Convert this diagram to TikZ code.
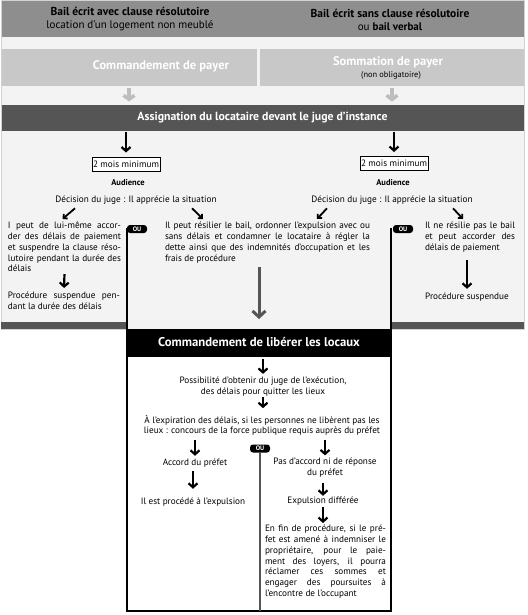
\documentclass[tikz,border=0pt]{standalone}
\usepackage{fontspec}
\setmainfont{PT Sans}
\usetikzlibrary{arrows.meta}
\definecolor{grisfonce}{HTML}{555555}
\definecolor{grismoyen}{HTML}{8E8E8E}
\definecolor{grisclair}{HTML}{C8C8C8}
\definecolor{grisfleche}{HTML}{BDBDBD}
\definecolor{fond}{HTML}{F3F3F3}

\begin{document}
\begin{tikzpicture}[x=1pt, y=-1pt,
    every node/.style={inner sep=0pt, outer sep=0pt},
    titre/.style={font=\fontsize{11}{13}\selectfont, align=center},
    texte/.style={font=\fontsize{9.2}{10.8}\selectfont, align=center},
    bloc/.style={texte, align=justify, anchor=north west},
    bande/.style={font=\fontsize{12.5}{13}\selectfont\bfseries, text=white},
    fleche/.style={line width=2.2pt, -{Straight Barb[length=4pt,width=9pt]}},
    petite/.style={line width=1.8pt, -{Straight Barb[length=3pt,width=6pt]}},
    flechegris/.style={draw=grisfleche, line width=3.5pt, -{Straight Barb[length=4pt,width=11pt]}},
    ou/.style={fill=black, text=white, rounded corners=3pt, font=\fontsize{6.5}{7}\selectfont\bfseries, minimum width=20pt, minimum height=8pt},
    mois/.style={draw=black, line width=1pt, fill=white, font=\fontsize{9.2}{10}\selectfont, minimum width=68pt, minimum height=14pt}]
  \useasboundingbox (0,0) rectangle (527,615);

  % fonds et bandeaux du haut
  \fill[fond] (1,0) rectangle (524,329);
  \fill[grismoyen] (1,0) rectangle (524,37);
  \node[titre] (bailG) at (130,19.5) {{\fontsize{11.5}{13}\selectfont\bfseries Bail écrit avec clause résolutoire}\\location d'un logement non meublé};
  \node[titre] (bailD) at (390,19.5) {{\fontsize{11.5}{13}\selectfont\bfseries Bail écrit sans clause résolutoire}\\ou \textbf{bail verbal}};

  \node[fill=grisclair, minimum width=256pt, minimum height=37pt] (payerG) at (129,67.5) {};
  \node[fill=grisclair, minimum width=264pt, minimum height=37pt] (payerD) at (392,67.5) {};
  \node[bande] (cmdpayer) at (161,66) {Commandement de payer};
  \node[bande] (sommation) at (388,62) {Sommation de payer};
  \node[texte, font=\fontsize{8.4}{9}\selectfont] (nonoblig) at (391,75.5) {(non obligatoire)};

  \node[bande, font=\fontsize{11.8}{13}\selectfont\bfseries, fill=grisfonce, minimum width=523pt, minimum height=25pt] (assign) at (262.5,118) {Assignation du locataire devant le juge d'instance};
  \draw[flechegris, shorten <=2pt, shorten >=4pt] (payerG.south) -- (payerG.south |- assign.north);
  \draw[flechegris, shorten <=2pt, shorten >=4pt] (payerD.south) -- (payerD.south |- assign.north);

  % partie centrale
  \draw[gray!35, line width=0.8pt] (1,0) rectangle (524,329);
  \fill[grisfonce] (1,322) rectangle (127,329);
  \fill[grisfonce] (391,322) rectangle (524,329);
  \draw[line width=1.2pt] (127,228) -- (127,611);
  \draw[line width=1.2pt] (391,228) -- (391,356);
  \node[ou] (ouG) at (137,229) {OU};
  \node[ou] (ouD) at (403,229) {OU};

  \node[mois] (moisG) at (126,164.5) {2 mois minimum};
  \node[mois] (moisD) at (394,163) {2 mois minimum};
  \draw[fleche, shorten <=1pt, shorten >=5pt] (assign.south -| moisG.north) -- (moisG.north);
  \draw[fleche, shorten <=1pt, shorten >=4pt] (assign.south -| moisD.north) -- (moisD.north);
  \node[texte, font=\fontsize{8.5}{10}\selectfont\bfseries] (audG) at (128,183) {Audience};
  \node[texte, font=\fontsize{8.5}{10}\selectfont\bfseries] (audD) at (393,183) {Audience};
  \node[texte] (decG) at (136,200) {Décision du juge : Il apprécie la situation};
  \node[texte] (decD) at (392,200) {Décision du juge : Il apprécie la situation};

  \node[bloc, text width=113pt] (txtG) at (8,222) {I peut de lui-même accor-\linebreak der des délais de paiement\linebreak et suspendre la clause réso-\linebreak lutoire pendant la durée des\linebreak délais};
  \node[bloc, text width=112pt] (procG) at (8,292) {Procédure suspendue pen-\linebreak dant la durée des délais};
  \node[bloc, text width=205pt] (txtC) at (165,222) {Il peut résilier le bail, ordonner l'expulsion avec ou\linebreak sans délais et condamner le locataire à régler la\linebreak dette ainsi que des indemnités d'occupation et les\linebreak frais de procédure};
  \node[bloc, text width=90pt] (txtD) at (425,222) {Il ne résilie pas le bail\linebreak et peut accorder des\linebreak délais de paiement};
  \node[texte] (procD) at (467,297) {Procédure suspendue};

  \draw[petite] ([xshift=-61pt,yshift=-4pt]decG.south) -- ([xshift=-2pt,yshift=3pt]txtG.north);
  \draw[petite] ([xshift=56pt,yshift=-4pt]decG.south) -- ([xshift=38pt,yshift=3pt]txtC.north west);
  \draw[petite] ([xshift=-65pt,yshift=-4pt]decD.south) -- ([xshift=-53pt,yshift=3pt]txtC.north east);
  \draw[petite] ([xshift=61pt,yshift=-4pt]decD.south) -- ([xshift=-7pt,yshift=3pt]txtD.north);
  \draw[fleche, shorten <=2pt, shorten >=4pt] (txtG.south) -- (procG.north);
  \draw[fleche, shorten <=8pt, shorten >=4pt] (txtD.south -| procD.north) -- (procD.north);

  % commandement de liberer les locaux
  \node[bande, fill=black, font=\fontsize{12.7}{13}\selectfont\bfseries, minimum width=264pt, minimum height=27pt] (liberer) at (259,342.5) {Commandement de libérer les locaux};
  \draw[line width=3pt, grisfonce, -{Straight Barb[length=6pt,width=13pt]}, shorten <=4pt, shorten >=10pt] (txtC.south -| liberer.north) -- (liberer.north);
  \draw[line width=1.2pt, fill=white] (127,356) rectangle (391,611);

  \node[texte] (possib) at (263,386.5) {Possibilité d'obtenir du juge de l'exécution,\\des délais pour quitter les lieux};
  \draw[fleche, shorten <=3pt, shorten >=3pt] (liberer.south -| possib.north) -- (possib.north);
  \node[texte] (expir) at (262,425.5) {À l'expiration des délais, si les personnes ne libèrent pas les\\lieux : concours de la force publique requis auprès du préfet};
  \draw[fleche, shorten <=1pt, shorten >=7pt] (possib.south) -- (possib.south |- expir.north);

  \node[ou] (ouB) at (260,448.5) {OU};
  \draw[line width=1.5pt, grisfonce] (ouB.south) -- (260,611);
  \node[texte] (accord) at (195,463) {Accord du préfet};
  \node[texte] (pasacc) at (325,468) {Pas d'accord ni de réponse\\du préfet};
  \node[texte] (procede) at (193,502) {Il est procédé à l'expulsion};
  \node[texte] (differee) at (323,501) {Expulsion différée};
  \node[bloc, text width=121pt] (finproc) at (265,525) {En fin de procédure, si le pré-\linebreak fet est amené à indemniser le\linebreak propriétaire, pour le paie-\linebreak ment des loyers, il pourra\linebreak réclamer ces sommes et\linebreak engager des poursuites à\linebreak l'encontre de l'occupant};

  \draw[fleche, shorten <=4pt, shorten >=3pt] (expir.south -| accord.north) -- (accord.north);
  \draw[fleche, shorten <=4pt, shorten >=3pt] (expir.south -| pasacc.north) -- (pasacc.north);
  \draw[fleche, shorten <=4pt, shorten >=9pt] (accord.south -| procede.north) -- (procede.north);
  \draw[fleche, shorten <=5pt, shorten >=1pt] (pasacc.south -| differee.north) -- (differee.north);
  \draw[fleche, shorten <=2pt, shorten >=2pt] (differee.south) -- (differee.south |- finproc.north);
\end{tikzpicture}
\end{document}
